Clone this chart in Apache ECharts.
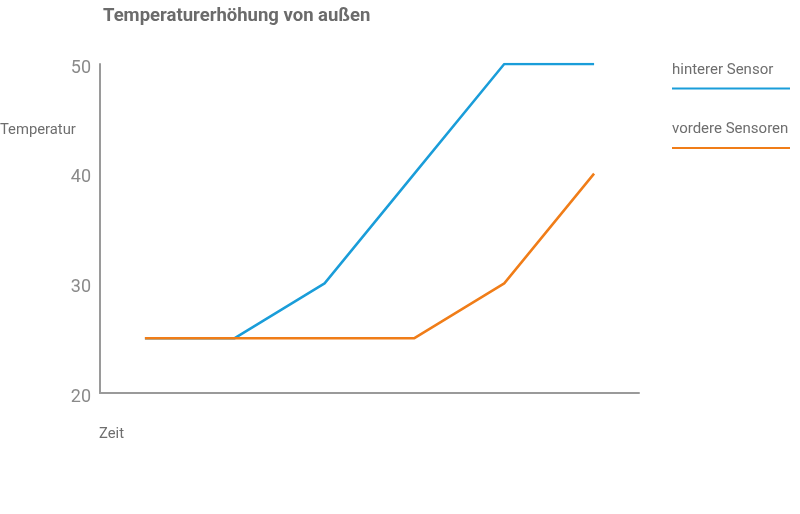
<!DOCTYPE html>
<html>
<head>
<meta charset="utf-8">
<script src="https://cdn.jsdelivr.net/npm/echarts@6/dist/echarts.min.js"></script>
<style>
  html, body { margin: 0; padding: 0; background: #fff; }
  #chart { width: 800px; height: 514px; }
</style>
</head>
<body>
<div id="chart"></div>
<script>
// Daten
const zeitpunkte = ['t1', 't2', 't3', 't4', 't5', 't6'];
const hintererSensor = [25, 25, 30, 40, 50, 50];
const vordereSensoren = [25, 25, 25, 25, 30, 40];
const serienNamen = ['hinterer Sensor', 'vordere Sensoren'];
const farben = ['#1a9dd9', '#f07d18'];

const chart = echarts.init(document.getElementById('chart'));
const schrift = 'Roboto, "Open Sans", sans-serif';

const option = {
    animation: false,
    color: farben,
    title: {
        text: 'Temperaturerhöhung von außen',
        left: 98,
        top: 2,
        textStyle: {
            fontFamily: schrift,
            fontSize: 18.5,
            fontWeight: 'bold',
            color: '#6b6b6b'
        }
    },
    grid: {
        left: 100,
        right: 161,
        top: 64,
        bottom: 121,
        containLabel: false
    },
    xAxis: {
        type: 'category',
        boundaryGap: true,
        data: zeitpunkte,
        axisLine: { lineStyle: { color: '#9a9a9a', width: 2 } },
        axisTick: { show: false },
        axisLabel: { show: false },
        splitLine: { show: false }
    },
    yAxis: {
        type: 'value',
        min: 20,
        max: 50,
        interval: 10,
        axisLine: { show: true, lineStyle: { color: '#9a9a9a', width: 2 } },
        axisTick: { show: false },
        splitLine: { show: false },
        axisLabel: {
            margin: 9,
            fontFamily: schrift,
            fontSize: 18,
            color: '#8a8a8a',
            verticalAlign: 'top',
            lineHeight: 8
        }
    },
    graphic: [
        {
            type: 'text', left: 0, top: 123,
            style: { text: 'Temperatur', fontFamily: schrift, fontSize: 14.8, fill: '#6e6e6e' }
        },
        {
            type: 'text', left: 99, top: 427,
            style: { text: 'Zeit', fontFamily: schrift, fontSize: 14.8, fill: '#6e6e6e' }
        },
        {
            type: 'text', left: 672, top: 63,
            style: { text: serienNamen[0], fontFamily: schrift, fontSize: 15, fill: '#6e6e6e' }
        },
        {
            type: 'line', shape: { x1: 672, y1: 88.5, x2: 790, y2: 88.5 },
            style: { stroke: farben[0], lineWidth: 2 }
        },
        {
            type: 'text', left: 672, top: 122,
            style: { text: serienNamen[1], fontFamily: schrift, fontSize: 15, fill: '#6e6e6e' }
        },
        {
            type: 'line', shape: { x1: 672, y1: 148, x2: 790, y2: 148 },
            style: { stroke: farben[1], lineWidth: 2 }
        }
    ],
    series: [
        {
            name: serienNamen[0],
            type: 'line',
            data: hintererSensor,
            symbol: 'none',
            lineStyle: { width: 2.5 }
        },
        {
            name: serienNamen[1],
            type: 'line',
            data: vordereSensoren,
            symbol: 'none',
            lineStyle: { width: 2.5 }
        }
    ]
};
chart.setOption(option);
</script>
</body>
</html>
